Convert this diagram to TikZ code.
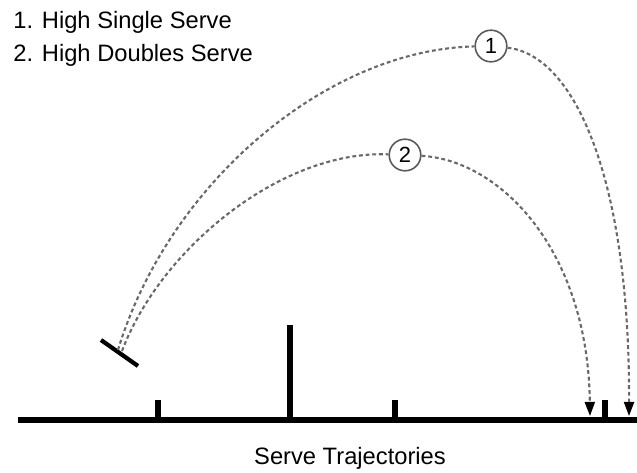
\documentclass[tikz,border=0pt]{standalone}
\usepackage{fontspec}
\setmainfont{Liberation Sans}
\usepackage{xcolor}
\definecolor{trajgray}{RGB}{105,105,105}
\definecolor{ringgray}{RGB}{90,90,90}
\usepackage{tikz}
\usetikzlibrary{arrows.meta,positioning,calc}

\begin{document}
\begin{tikzpicture}[x=0.02cm, y=-0.02cm,
  traj/.style={trajgray, line width=1.2pt, dash pattern=on 2.2pt off 1.6pt,
    -{Triangle[length=8pt, width=5.7pt, black]}},
  numring/.style={circle, draw=ringgray, line width=0.9pt, fill=white,
    minimum size=18pt, inner sep=0pt, font=\fontsize{12.5}{14}\selectfont},
  post/.style={line width=3.8pt, line cap=butt},
  legend/.style={anchor=base west, inner sep=0pt, font=\fontsize{13.5}{15}\selectfont}]

\useasboundingbox (0,0) rectangle (637,473);

% Legend
\node[legend] (l1) at (13,29) {1. High Single Serve};
\node[legend] (l2) at (13,62) {2. High Doubles Serve};

% Court
\draw[line width=3.8pt] (18,420) -- (637,420);
\draw[post] (158,420) -- (158,400);
\draw[post] (290,420) -- (290,325);
\draw[post] (395,420) -- (395,400);
\draw[post] (605,420) -- (605,400);

% Racket
\coordinate (r1) at (101,340);
\coordinate (r2) at (138,366);
\draw[line width=2.4pt] (r1) -- (r2);
\coordinate (s1) at (118,350);
\coordinate (s2) at (122,351);

% Landing spots
\coordinate (land1) at (629,416);
\coordinate (land2) at (590,416);

% Number rings
\node[numring] (c1) at (491,46) {1};
\node[numring] (c2) at (405,155) {2};

% Serve 1
\draw[traj, -] (s1) .. controls (168,185) and (325,50) .. (c1);
\draw[traj] (c1) .. controls (575,55) and (630,180) .. (land1);

% Serve 2
\draw[traj, -] (s2) .. controls (160,250) and (280,150) .. (c2);
\draw[traj] (c2) .. controls (500,160) and (588,250) .. (land2);

% Caption
\node[anchor=base, inner sep=0pt, font=\fontsize{13.5}{15}\selectfont] (cap) at (350,465)
  {Serve Trajectories};

\end{tikzpicture}
\end{document}
